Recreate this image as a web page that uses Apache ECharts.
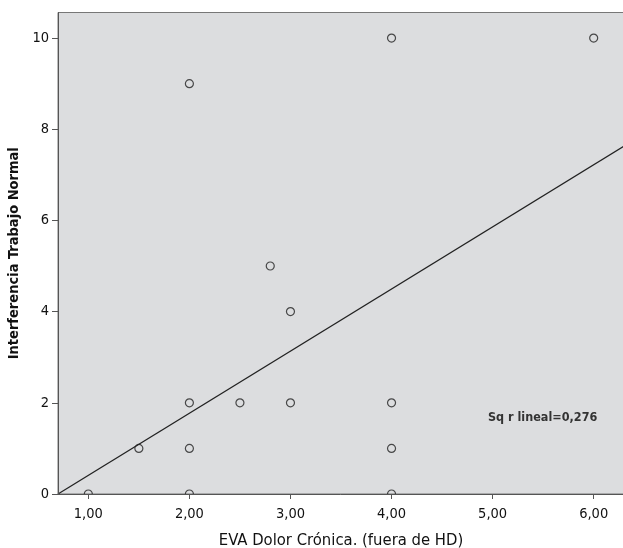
<!DOCTYPE html>
<html>
<head>
<meta charset="utf-8">
<script src="https://cdn.jsdelivr.net/npm/echarts@6/dist/echarts.min.js"></script>
<style>
  html, body { margin: 0; padding: 0; background: #fff; }
  #chart { width: 623px; height: 548px; }
</style>
</head>
<body>
<div id="chart"></div>
<script>
// puntos observados (EVA dolor, interferencia)
var evaDolor = [1, 1.5, 2, 2, 2, 2, 2.5, 2.8, 3, 3, 4, 4, 4, 4, 6];
var interferencia = [0, 1, 9, 2, 1, 0, 2, 5, 4, 2, 10, 2, 1, 0, 10];
// recta de ajuste, extremos
var lineaX = [0.7, 6.3];
var lineaY = [0, 7.63];
var xTicks = [1, 2, 3, 4, 5, 6];
var yTicks = [0, 2, 4, 6, 8, 10];
var rCuadrado = 'Sq r lineal=0,276';

var font = 'DejaVu Sans Condensed';

var puntos = [];
for (var i = 0; i < evaDolor.length; i++) {
	puntos.push([evaDolor[i], interferencia[i]]);
}
var linea = [[lineaX[0], lineaY[0]], [lineaX[1], lineaY[1]]];

var myChart = echarts.init(document.getElementById('chart'));
var option = {
	animation: false,
	grid: {
		left: 58,
		top: 12.5,
		right: -1,
		bottom: 54,
		outerBoundsMode: 'none',
		containLabel: false,
		show: true,
		backgroundColor: '#dcdddf',
		borderColor: '#777',
		borderWidth: 1
	},
	xAxis: {
		type: 'value',
		min: 0.7,
		max: 6.3,
		z: 50,
		name: 'EVA Dolor Crónica. (fuera de HD)',
		nameLocation: 'middle',
		nameGap: 38,
		nameTextStyle: { fontFamily: font, fontWeight: 'normal', fontSize: 16.5, color: '#111' },
		axisLine: { onZero: false, lineStyle: { color: '#555' } },
		axisTick: { show: true, length: 5, inside: false, lineStyle: { color: '#555' }, customValues: xTicks },
		axisLabel: {
			fontFamily: font, fontSize: 14.5, color: '#111', margin: 13,
			customValues: xTicks,
			formatter: function (v) { return v.toFixed(2).replace('.', ','); }
		},
		splitLine: { show: false }
	},
	yAxis: {
		type: 'value',
		min: 0,
		max: 10.56,
		z: 50,
		name: 'Interferencia Trabajo Normal',
		nameLocation: 'middle',
		nameGap: 31,
		nameTextStyle: { fontFamily: font, fontWeight: 'bold', fontSize: 14.5, color: '#111' },
		axisLine: { show: true, lineStyle: { color: '#555' } },
		axisTick: { show: true, length: 6, lineStyle: { color: '#555' }, customValues: yTicks },
		axisLabel: { fontFamily: font, fontSize: 14.5, color: '#111', margin: 9, customValues: yTicks },
		splitLine: { show: false }
	},
	graphic: [{
		// tapa la mitad inferior de los circulos en y=0, como en el original
		type: 'rect',
		z: 40,
		shape: { x: 0, y: 494.5, width: 623, height: 54 },
		style: { fill: '#fff' }
	}, {
		type: 'text',
		left: 488,
		top: 411,
		z: 60,
		style: { text: rCuadrado, font: 'bold 12.5px "DejaVu Sans Condensed"', fill: '#333' }
	}],
	series: [{
		type: 'line',
		data: linea,
		symbol: 'none',
		lineStyle: { color: '#222', width: 1.3 },
		z: 2
	}, {
		type: 'scatter',
		data: puntos,
		symbol: 'circle',
		symbolSize: 8,
		itemStyle: { color: 'rgba(0,0,0,0)', borderColor: '#222', borderWidth: 1.2 },
		z: 3
	}]
};
myChart.setOption(option);
</script>
</body>
</html>
